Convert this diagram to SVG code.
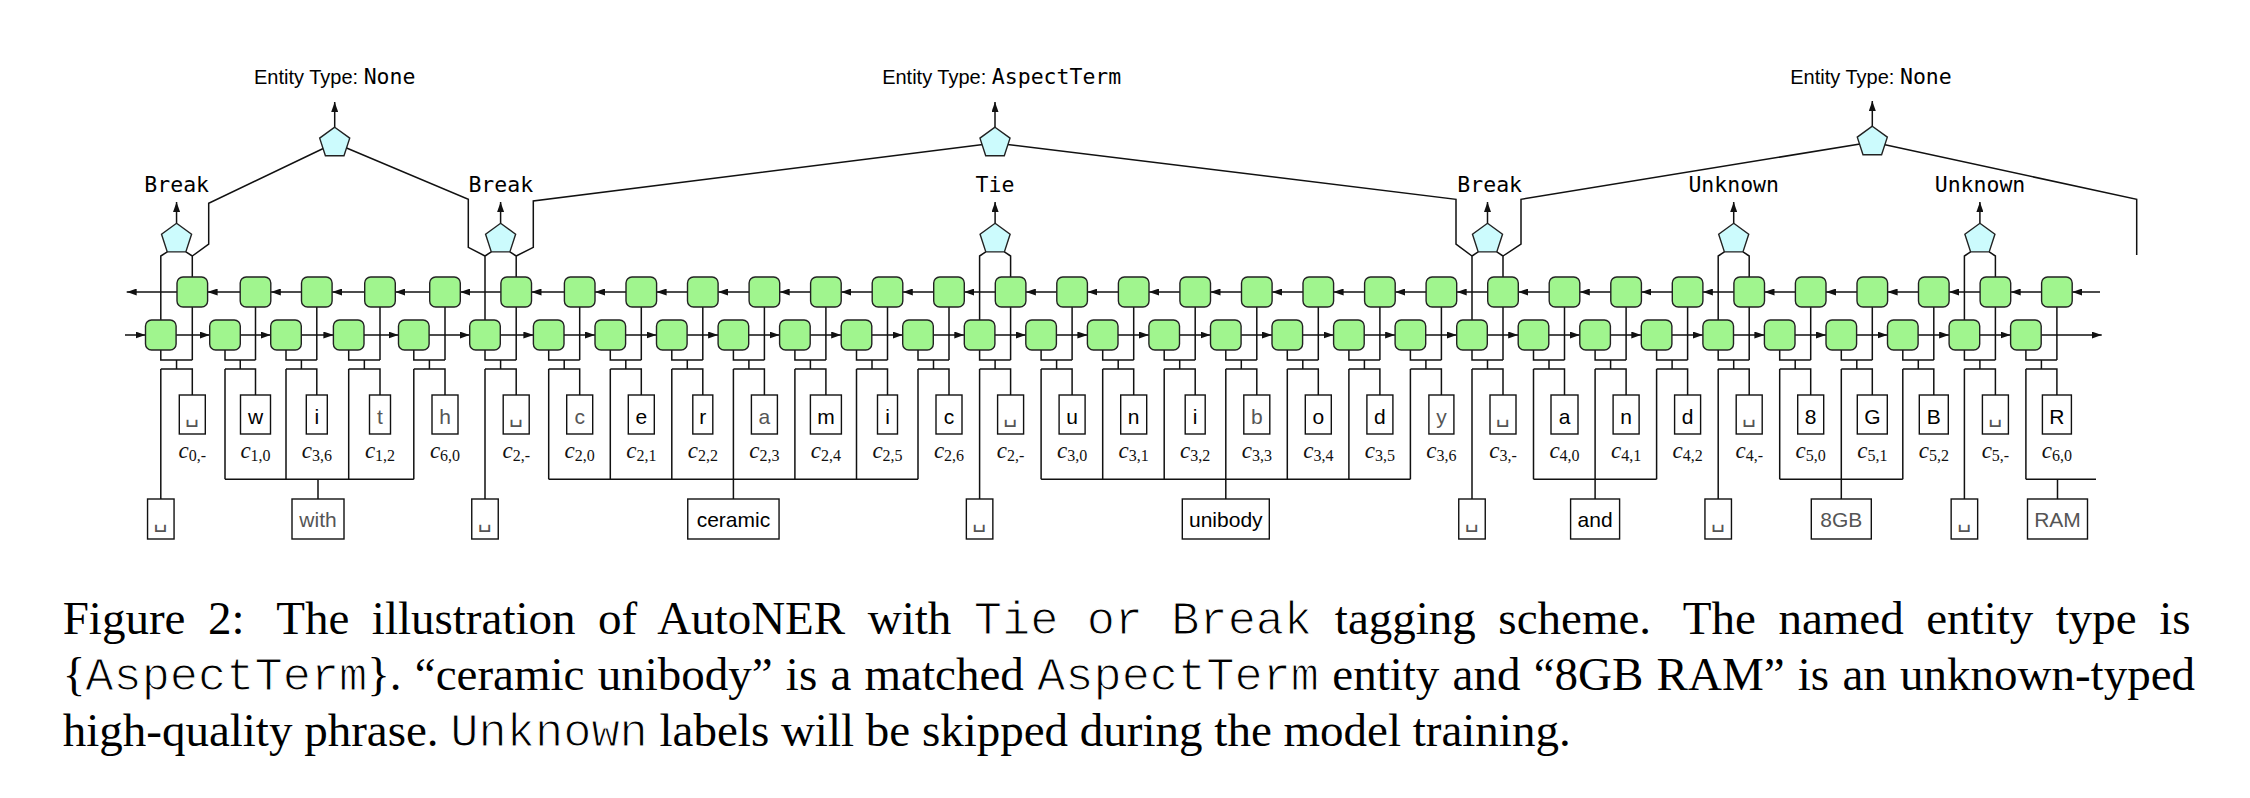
<svg xmlns="http://www.w3.org/2000/svg" xmlns:xlink="http://www.w3.org/1999/xlink" width="2250" height="798" viewBox="0 0 2250 798">
<defs>
<style>
.ln{fill:none;stroke:#111;stroke-width:1.5}
.ar{fill:none;stroke:#111;stroke-width:1.5;marker-end:url(#ah)}
.cell{fill:#a0f58e;stroke:#222;stroke-width:1.4}
.pent{fill:#ccfbfd;stroke:#222;stroke-width:1.4}
.box{fill:#fff;stroke:#111;stroke-width:1.4}
.ch{font-family:"Liberation Sans",Arial,sans-serif;font-size:21px;text-anchor:middle;fill:#000}
.gr{fill:#555}
.sp{font-family:"DejaVu Sans",sans-serif;font-size:22px;text-anchor:middle;fill:#555}
.lab{font-family:"Liberation Serif",serif;font-size:23px;text-anchor:middle;fill:#111}
.it{font-style:italic}
.sub{font-size:16px}
.mono{font-family:"DejaVu Sans Mono",monospace;font-size:21.5px;text-anchor:middle;fill:#000}
.et{font-family:"Liberation Sans",Arial,sans-serif;font-size:20px;text-anchor:middle;fill:#000}
.tm{font-family:"DejaVu Sans Mono",monospace;font-size:21.5px}
.cap{font-family:"Liberation Serif","Times New Roman",serif;font-size:47px;fill:#000}
.cm{font-family:"Liberation Mono","Courier New",monospace;word-spacing:0;stroke:#fff;stroke-width:1.1px}
</style>
<marker id="ah" markerUnits="userSpaceOnUse" markerWidth="10" markerHeight="7" refX="10" refY="3.5" orient="auto"><path d="M0,0 L10,3.5 L0,7 Z" fill="#111"/></marker>
<rect id="cl" x="-15.3" y="-15" width="30.6" height="30" rx="6"/>
<path id="pg" d="M0,-15.8 L15.03,-4.88 L9.29,12.78 L-9.29,12.78 L-15.03,-4.88 Z"/>
</defs>
<rect width="2250" height="798" fill="#fff"/>

<g id="connectors">
<path class="ln" d="M334.7,143 L208.7,203.3 V244 L192.3,256"/>
<path class="ln" d="M334.7,143 L468.3,199.3 V247.3 L485,256"/>
<path class="ln" d="M995,143 L533.3,201 V247.3 L516.2,256"/>
<path class="ln" d="M995,143 L1456,199.3 V244 L1472,256"/>
<path class="ln" d="M1872.3,142 L1521,199.3 V244 L1503,256"/>
<path class="ln" d="M1872.3,142 L2136.7,199.3 V255"/>
<path class="ar" d="M334.7,127.2 V102"/>
<path class="ar" d="M995,127.2 V102"/>
<path class="ar" d="M1872.3,126.2 V101"/>
<path class="ln" d="M160.8,320 V256 L167.3,251.9 M192.3,277 V256 L185.9,251.9"/>
<path class="ln" d="M485,320 V256 L491.3,251.9 M516.2,277 V256 L509.9,251.9"/>
<path class="ln" d="M979.6,320 V256 L985.8,251.9 M1010.6,277 V256 L1004.4,251.9"/>
<path class="ln" d="M1472,320 V256 L1478.2,251.9 M1503,277 V256 L1496.8,251.9"/>
<path class="ln" d="M1718.2,320 V256 L1724.4,251.9 M1749.2,277 V256 L1743,251.9"/>
<path class="ln" d="M1964.4,320 V256 L1970.6,251.9 M1995.4,277 V256 L1989.2,251.9"/>
<path class="ar" d="M176.55,223.3 V202"/>
<path class="ar" d="M500.6,223.3 V202"/>
<path class="ar" d="M995.1,223.3 V202"/>
<path class="ar" d="M1487.5,223.3 V202"/>
<path class="ar" d="M1733.7,223.3 V202"/>
<path class="ar" d="M1979.9,223.3 V202"/>
<path class="ln" d="M160.8,350V360H192.3M192.3,307V360M176.55,360V369M160.8,369H192.3V395M160.8,369V499"/>
<path class="ln" d="M225,350V360H255.5M255.5,307V360M240.25,360V369M225,369H255.5V395M225,369V479.3"/>
<path class="ln" d="M286,350V360H316.8M316.8,307V360M301.4,360V369M286,369H316.8V395M286,369V479.3"/>
<path class="ln" d="M348.7,350V360H380M380,307V360M364.35,360V369M348.7,369H380V395M348.7,369V479.3"/>
<path class="ln" d="M413.8,350V360H445M445,307V360M429.4,360V369M413.8,369H445V395M413.8,369V479.3"/>
<path class="ln" d="M485,350V360H516.2M516.2,307V360M500.6,360V369M485,369H516.2V395M485,369V499"/>
<path class="ln" d="M548.7,350V360H579.7M579.7,307V360M564.2,360V369M548.7,369H579.7V395M548.7,369V479.3"/>
<path class="ln" d="M610.3,350V360H641.3M641.3,307V360M625.8,360V369M610.3,369H641.3V395M610.3,369V479.3"/>
<path class="ln" d="M671.8,350V360H702.8M702.8,307V360M687.3,360V369M671.8,369H702.8V395M671.8,369V479.3"/>
<path class="ln" d="M733.4,350V360H764.4M764.4,307V360M748.9,360V369M733.4,369H764.4V395M733.4,369V479.3"/>
<path class="ln" d="M794.9,350V360H825.9M825.9,307V360M810.4,360V369M794.9,369H825.9V395M794.9,369V479.3"/>
<path class="ln" d="M856.5,350V360H887.5M887.5,307V360M872,360V369M856.5,369H887.5V395M856.5,369V479.3"/>
<path class="ln" d="M918,350V360H949M949,307V360M933.5,360V369M918,369H949V395M918,369V479.3"/>
<path class="ln" d="M979.6,350V360H1010.6M1010.6,307V360M995.1,360V369M979.6,369H1010.6V395M979.6,369V499"/>
<path class="ln" d="M1041.1,350V360H1072.1M1072.1,307V360M1056.6,360V369M1041.1,369H1072.1V395M1041.1,369V479.3"/>
<path class="ln" d="M1102.7,350V360H1133.7M1133.7,307V360M1118.2,360V369M1102.7,369H1133.7V395M1102.7,369V479.3"/>
<path class="ln" d="M1164.2,350V360H1195.2M1195.2,307V360M1179.7,360V369M1164.2,369H1195.2V395M1164.2,369V479.3"/>
<path class="ln" d="M1225.8,350V360H1256.8M1256.8,307V360M1241.3,360V369M1225.8,369H1256.8V395M1225.8,369V479.3"/>
<path class="ln" d="M1287.3,350V360H1318.3M1318.3,307V360M1302.8,360V369M1287.3,369H1318.3V395M1287.3,369V479.3"/>
<path class="ln" d="M1348.9,350V360H1379.9M1379.9,307V360M1364.4,360V369M1348.9,369H1379.9V395M1348.9,369V479.3"/>
<path class="ln" d="M1410.4,350V360H1441.4M1441.4,307V360M1425.9,360V369M1410.4,369H1441.4V395M1410.4,369V479.3"/>
<path class="ln" d="M1472,350V360H1503M1503,307V360M1487.5,360V369M1472,369H1503V395M1472,369V499"/>
<path class="ln" d="M1533.5,350V360H1564.5M1564.5,307V360M1549,360V369M1533.5,369H1564.5V395M1533.5,369V479.3"/>
<path class="ln" d="M1595.1,350V360H1626.1M1626.1,307V360M1610.6,360V369M1595.1,369H1626.1V395M1595.1,369V479.3"/>
<path class="ln" d="M1656.6,350V360H1687.6M1687.6,307V360M1672.1,360V369M1656.6,369H1687.6V395M1656.6,369V479.3"/>
<path class="ln" d="M1718.2,350V360H1749.2M1749.2,307V360M1733.7,360V369M1718.2,369H1749.2V395M1718.2,369V499"/>
<path class="ln" d="M1779.7,350V360H1810.7M1810.7,307V360M1795.2,360V369M1779.7,369H1810.7V395M1779.7,369V479.3"/>
<path class="ln" d="M1841.3,350V360H1872.3M1872.3,307V360M1856.8,360V369M1841.3,369H1872.3V395M1841.3,369V479.3"/>
<path class="ln" d="M1902.8,350V360H1933.8M1933.8,307V360M1918.3,360V369M1902.8,369H1933.8V395M1902.8,369V479.3"/>
<path class="ln" d="M1964.4,350V360H1995.4M1995.4,307V360M1979.9,360V369M1964.4,369H1995.4V395M1964.4,369V499"/>
<path class="ln" d="M2025.9,350V360H2056.9M2056.9,307V360M2041.4,360V369M2025.9,369H2056.9V395M2025.9,369V479.3"/>
<path class="ln" d="M225,479.3H413.8M318,479.3V499"/>
<path class="ln" d="M548.7,479.3H918M733.4,479.3V499"/>
<path class="ln" d="M1041.1,479.3H1410.4M1225.8,479.3V499"/>
<path class="ln" d="M1533.5,479.3H1656.6M1595.1,479.3V499"/>
<path class="ln" d="M1779.7,479.3H1902.8M1841.3,479.3V499"/>
<path class="ln" d="M2025.9,479.3H2096M2057.5,479.3V499"/>
<line class="ar" x1="125" y1="335" x2="145.5" y2="335"/>
<line class="ar" x1="176.1" y1="335" x2="209.7" y2="335"/>
<line class="ar" x1="240.3" y1="335" x2="270.7" y2="335"/>
<line class="ar" x1="301.3" y1="335" x2="333.4" y2="335"/>
<line class="ar" x1="364" y1="335" x2="398.5" y2="335"/>
<line class="ar" x1="429.1" y1="335" x2="469.7" y2="335"/>
<line class="ar" x1="500.3" y1="335" x2="533.4" y2="335"/>
<line class="ar" x1="564" y1="335" x2="595" y2="335"/>
<line class="ar" x1="625.6" y1="335" x2="656.5" y2="335"/>
<line class="ar" x1="687.1" y1="335" x2="718.1" y2="335"/>
<line class="ar" x1="748.7" y1="335" x2="779.6" y2="335"/>
<line class="ar" x1="810.2" y1="335" x2="841.2" y2="335"/>
<line class="ar" x1="871.8" y1="335" x2="902.7" y2="335"/>
<line class="ar" x1="933.3" y1="335" x2="964.3" y2="335"/>
<line class="ar" x1="994.9" y1="335" x2="1025.8" y2="335"/>
<line class="ar" x1="1056.4" y1="335" x2="1087.4" y2="335"/>
<line class="ar" x1="1118" y1="335" x2="1148.9" y2="335"/>
<line class="ar" x1="1179.5" y1="335" x2="1210.5" y2="335"/>
<line class="ar" x1="1241.1" y1="335" x2="1272" y2="335"/>
<line class="ar" x1="1302.6" y1="335" x2="1333.6" y2="335"/>
<line class="ar" x1="1364.2" y1="335" x2="1395.1" y2="335"/>
<line class="ar" x1="1425.7" y1="335" x2="1456.7" y2="335"/>
<line class="ar" x1="1487.3" y1="335" x2="1518.2" y2="335"/>
<line class="ar" x1="1548.8" y1="335" x2="1579.8" y2="335"/>
<line class="ar" x1="1610.4" y1="335" x2="1641.3" y2="335"/>
<line class="ar" x1="1671.9" y1="335" x2="1702.9" y2="335"/>
<line class="ar" x1="1733.5" y1="335" x2="1764.4" y2="335"/>
<line class="ar" x1="1795" y1="335" x2="1826" y2="335"/>
<line class="ar" x1="1856.6" y1="335" x2="1887.5" y2="335"/>
<line class="ar" x1="1918.1" y1="335" x2="1949.1" y2="335"/>
<line class="ar" x1="1979.7" y1="335" x2="2010.6" y2="335"/>
<line class="ar" x1="2041.2" y1="335" x2="2101.7" y2="335"/>
<line class="ar" x1="177" y1="292" x2="126.7" y2="292"/>
<line class="ar" x1="240.2" y1="292" x2="207.6" y2="292"/>
<line class="ar" x1="301.5" y1="292" x2="270.8" y2="292"/>
<line class="ar" x1="364.7" y1="292" x2="332.1" y2="292"/>
<line class="ar" x1="429.7" y1="292" x2="395.3" y2="292"/>
<line class="ar" x1="500.9" y1="292" x2="460.3" y2="292"/>
<line class="ar" x1="564.4" y1="292" x2="531.5" y2="292"/>
<line class="ar" x1="626" y1="292" x2="595" y2="292"/>
<line class="ar" x1="687.5" y1="292" x2="656.6" y2="292"/>
<line class="ar" x1="749.1" y1="292" x2="718.1" y2="292"/>
<line class="ar" x1="810.6" y1="292" x2="779.7" y2="292"/>
<line class="ar" x1="872.2" y1="292" x2="841.2" y2="292"/>
<line class="ar" x1="933.7" y1="292" x2="902.8" y2="292"/>
<line class="ar" x1="995.3" y1="292" x2="964.3" y2="292"/>
<line class="ar" x1="1056.8" y1="292" x2="1025.9" y2="292"/>
<line class="ar" x1="1118.4" y1="292" x2="1087.4" y2="292"/>
<line class="ar" x1="1179.9" y1="292" x2="1149" y2="292"/>
<line class="ar" x1="1241.5" y1="292" x2="1210.5" y2="292"/>
<line class="ar" x1="1303" y1="292" x2="1272.1" y2="292"/>
<line class="ar" x1="1364.6" y1="292" x2="1333.6" y2="292"/>
<line class="ar" x1="1426.1" y1="292" x2="1395.2" y2="292"/>
<line class="ar" x1="1487.7" y1="292" x2="1456.7" y2="292"/>
<line class="ar" x1="1549.2" y1="292" x2="1518.3" y2="292"/>
<line class="ar" x1="1610.8" y1="292" x2="1579.8" y2="292"/>
<line class="ar" x1="1672.3" y1="292" x2="1641.4" y2="292"/>
<line class="ar" x1="1733.9" y1="292" x2="1702.9" y2="292"/>
<line class="ar" x1="1795.4" y1="292" x2="1764.5" y2="292"/>
<line class="ar" x1="1857" y1="292" x2="1826" y2="292"/>
<line class="ar" x1="1918.5" y1="292" x2="1887.6" y2="292"/>
<line class="ar" x1="1980.1" y1="292" x2="1949.1" y2="292"/>
<line class="ar" x1="2041.6" y1="292" x2="2010.7" y2="292"/>
<line class="ar" x1="2100" y1="292" x2="2072.2" y2="292"/>
</g>

<g id="pentagons">
<g id="top-none-1"><use xlink:href="#pg" class="pent" x="334.7" y="143"/></g>
<g id="top-aspect"><use xlink:href="#pg" class="pent" x="995" y="143"/></g>
<g id="top-none-2"><use xlink:href="#pg" class="pent" x="1872.3" y="142"/></g>
<g id="tag-0"><use xlink:href="#pg" class="pent" x="176.55" y="239.1"/></g>
<g id="tag-5"><use xlink:href="#pg" class="pent" x="500.6" y="239.1"/></g>
<g id="tag-13"><use xlink:href="#pg" class="pent" x="995.1" y="239.1"/></g>
<g id="tag-21"><use xlink:href="#pg" class="pent" x="1487.5" y="239.1"/></g>
<g id="tag-25"><use xlink:href="#pg" class="pent" x="1733.7" y="239.1"/></g>
<g id="tag-29"><use xlink:href="#pg" class="pent" x="1979.9" y="239.1"/></g>
</g>

<g id="labels">
<text class="et" x="334.7" y="84">Entity Type: <tspan class="tm">None</tspan></text>
<text class="et" x="1001.7" y="84">Entity Type: <tspan class="tm">AspectTerm</tspan></text>
<text class="et" x="1871" y="84">Entity Type: <tspan class="tm">None</tspan></text>
<text class="mono" x="176.7" y="191.7">Break</text>
<text class="mono" x="500.8" y="191.7">Break</text>
<text class="mono" x="995" y="191.7">Tie</text>
<text class="mono" x="1489.7" y="191.7">Break</text>
<text class="mono" x="1733.7" y="191.7">Unknown</text>
<text class="mono" x="1980" y="191.7">Unknown</text>
</g>

<g id="bw-cells">
<g id="bw0"><use xlink:href="#cl" class="cell" x="192.3" y="292"/></g>
<g id="bw1"><use xlink:href="#cl" class="cell" x="255.5" y="292"/></g>
<g id="bw2"><use xlink:href="#cl" class="cell" x="316.8" y="292"/></g>
<g id="bw3"><use xlink:href="#cl" class="cell" x="380" y="292"/></g>
<g id="bw4"><use xlink:href="#cl" class="cell" x="445" y="292"/></g>
<g id="bw5"><use xlink:href="#cl" class="cell" x="516.2" y="292"/></g>
<g id="bw6"><use xlink:href="#cl" class="cell" x="579.7" y="292"/></g>
<g id="bw7"><use xlink:href="#cl" class="cell" x="641.3" y="292"/></g>
<g id="bw8"><use xlink:href="#cl" class="cell" x="702.8" y="292"/></g>
<g id="bw9"><use xlink:href="#cl" class="cell" x="764.4" y="292"/></g>
<g id="bw10"><use xlink:href="#cl" class="cell" x="825.9" y="292"/></g>
<g id="bw11"><use xlink:href="#cl" class="cell" x="887.5" y="292"/></g>
<g id="bw12"><use xlink:href="#cl" class="cell" x="949" y="292"/></g>
<g id="bw13"><use xlink:href="#cl" class="cell" x="1010.6" y="292"/></g>
<g id="bw14"><use xlink:href="#cl" class="cell" x="1072.1" y="292"/></g>
<g id="bw15"><use xlink:href="#cl" class="cell" x="1133.7" y="292"/></g>
<g id="bw16"><use xlink:href="#cl" class="cell" x="1195.2" y="292"/></g>
<g id="bw17"><use xlink:href="#cl" class="cell" x="1256.8" y="292"/></g>
<g id="bw18"><use xlink:href="#cl" class="cell" x="1318.3" y="292"/></g>
<g id="bw19"><use xlink:href="#cl" class="cell" x="1379.9" y="292"/></g>
<g id="bw20"><use xlink:href="#cl" class="cell" x="1441.4" y="292"/></g>
<g id="bw21"><use xlink:href="#cl" class="cell" x="1503" y="292"/></g>
<g id="bw22"><use xlink:href="#cl" class="cell" x="1564.5" y="292"/></g>
<g id="bw23"><use xlink:href="#cl" class="cell" x="1626.1" y="292"/></g>
<g id="bw24"><use xlink:href="#cl" class="cell" x="1687.6" y="292"/></g>
<g id="bw25"><use xlink:href="#cl" class="cell" x="1749.2" y="292"/></g>
<g id="bw26"><use xlink:href="#cl" class="cell" x="1810.7" y="292"/></g>
<g id="bw27"><use xlink:href="#cl" class="cell" x="1872.3" y="292"/></g>
<g id="bw28"><use xlink:href="#cl" class="cell" x="1933.8" y="292"/></g>
<g id="bw29"><use xlink:href="#cl" class="cell" x="1995.4" y="292"/></g>
<g id="bw30"><use xlink:href="#cl" class="cell" x="2056.9" y="292"/></g>
</g>

<g id="fw-cells">
<g id="fw0"><use xlink:href="#cl" class="cell" x="160.8" y="335"/></g>
<g id="fw1"><use xlink:href="#cl" class="cell" x="225" y="335"/></g>
<g id="fw2"><use xlink:href="#cl" class="cell" x="286" y="335"/></g>
<g id="fw3"><use xlink:href="#cl" class="cell" x="348.7" y="335"/></g>
<g id="fw4"><use xlink:href="#cl" class="cell" x="413.8" y="335"/></g>
<g id="fw5"><use xlink:href="#cl" class="cell" x="485" y="335"/></g>
<g id="fw6"><use xlink:href="#cl" class="cell" x="548.7" y="335"/></g>
<g id="fw7"><use xlink:href="#cl" class="cell" x="610.3" y="335"/></g>
<g id="fw8"><use xlink:href="#cl" class="cell" x="671.8" y="335"/></g>
<g id="fw9"><use xlink:href="#cl" class="cell" x="733.4" y="335"/></g>
<g id="fw10"><use xlink:href="#cl" class="cell" x="794.9" y="335"/></g>
<g id="fw11"><use xlink:href="#cl" class="cell" x="856.5" y="335"/></g>
<g id="fw12"><use xlink:href="#cl" class="cell" x="918" y="335"/></g>
<g id="fw13"><use xlink:href="#cl" class="cell" x="979.6" y="335"/></g>
<g id="fw14"><use xlink:href="#cl" class="cell" x="1041.1" y="335"/></g>
<g id="fw15"><use xlink:href="#cl" class="cell" x="1102.7" y="335"/></g>
<g id="fw16"><use xlink:href="#cl" class="cell" x="1164.2" y="335"/></g>
<g id="fw17"><use xlink:href="#cl" class="cell" x="1225.8" y="335"/></g>
<g id="fw18"><use xlink:href="#cl" class="cell" x="1287.3" y="335"/></g>
<g id="fw19"><use xlink:href="#cl" class="cell" x="1348.9" y="335"/></g>
<g id="fw20"><use xlink:href="#cl" class="cell" x="1410.4" y="335"/></g>
<g id="fw21"><use xlink:href="#cl" class="cell" x="1472" y="335"/></g>
<g id="fw22"><use xlink:href="#cl" class="cell" x="1533.5" y="335"/></g>
<g id="fw23"><use xlink:href="#cl" class="cell" x="1595.1" y="335"/></g>
<g id="fw24"><use xlink:href="#cl" class="cell" x="1656.6" y="335"/></g>
<g id="fw25"><use xlink:href="#cl" class="cell" x="1718.2" y="335"/></g>
<g id="fw26"><use xlink:href="#cl" class="cell" x="1779.7" y="335"/></g>
<g id="fw27"><use xlink:href="#cl" class="cell" x="1841.3" y="335"/></g>
<g id="fw28"><use xlink:href="#cl" class="cell" x="1902.8" y="335"/></g>
<g id="fw29"><use xlink:href="#cl" class="cell" x="1964.4" y="335"/></g>
<g id="fw30"><use xlink:href="#cl" class="cell" x="2025.9" y="335"/></g>
</g>

<g id="chars">
<g id="ch0"><rect class="box" x="179.3" y="395" width="26" height="39"/><text class="sp" x="192.3" y="422">␣</text><text class="lab" x="192.3" y="458"><tspan class="it">c</tspan><tspan class="sub" dy="3">0,-</tspan></text></g>
<g id="ch1"><rect class="box" x="240.5" y="395" width="30" height="39"/><text class="ch" x="255.5" y="423.5">w</text><text class="lab" x="255.5" y="458"><tspan class="it">c</tspan><tspan class="sub" dy="3">1,0</tspan></text></g>
<g id="ch2"><rect class="box" x="306.3" y="395" width="21" height="39"/><text class="ch" x="316.8" y="423.5">i</text><text class="lab" x="316.8" y="458"><tspan class="it">c</tspan><tspan class="sub" dy="3">3,6</tspan></text></g>
<g id="ch3"><rect class="box" x="369.5" y="395" width="21" height="39"/><text class="ch gr" x="380" y="423.5">t</text><text class="lab" x="380" y="458"><tspan class="it">c</tspan><tspan class="sub" dy="3">1,2</tspan></text></g>
<g id="ch4"><rect class="box" x="432" y="395" width="26" height="39"/><text class="ch gr" x="445" y="423.5">h</text><text class="lab" x="445" y="458"><tspan class="it">c</tspan><tspan class="sub" dy="3">6,0</tspan></text></g>
<g id="ch5"><rect class="box" x="503.2" y="395" width="26" height="39"/><text class="sp" x="516.2" y="422">␣</text><text class="lab" x="516.2" y="458"><tspan class="it">c</tspan><tspan class="sub" dy="3">2,-</tspan></text></g>
<g id="ch6"><rect class="box" x="566.7" y="395" width="26" height="39"/><text class="ch gr" x="579.7" y="423.5">c</text><text class="lab" x="579.7" y="458"><tspan class="it">c</tspan><tspan class="sub" dy="3">2,0</tspan></text></g>
<g id="ch7"><rect class="box" x="628.3" y="395" width="26" height="39"/><text class="ch" x="641.3" y="423.5">e</text><text class="lab" x="641.3" y="458"><tspan class="it">c</tspan><tspan class="sub" dy="3">2,1</tspan></text></g>
<g id="ch8"><rect class="box" x="692.8" y="395" width="20" height="39"/><text class="ch" x="702.8" y="423.5">r</text><text class="lab" x="702.8" y="458"><tspan class="it">c</tspan><tspan class="sub" dy="3">2,2</tspan></text></g>
<g id="ch9"><rect class="box" x="751.4" y="395" width="26" height="39"/><text class="ch gr" x="764.4" y="423.5">a</text><text class="lab" x="764.4" y="458"><tspan class="it">c</tspan><tspan class="sub" dy="3">2,3</tspan></text></g>
<g id="ch10"><rect class="box" x="810.4" y="395" width="31" height="39"/><text class="ch" x="825.9" y="423.5">m</text><text class="lab" x="825.9" y="458"><tspan class="it">c</tspan><tspan class="sub" dy="3">2,4</tspan></text></g>
<g id="ch11"><rect class="box" x="877.5" y="395" width="20" height="39"/><text class="ch" x="887.5" y="423.5">i</text><text class="lab" x="887.5" y="458"><tspan class="it">c</tspan><tspan class="sub" dy="3">2,5</tspan></text></g>
<g id="ch12"><rect class="box" x="936" y="395" width="26" height="39"/><text class="ch" x="949" y="423.5">c</text><text class="lab" x="949" y="458"><tspan class="it">c</tspan><tspan class="sub" dy="3">2,6</tspan></text></g>
<g id="ch13"><rect class="box" x="997.6" y="395" width="26" height="39"/><text class="sp" x="1010.6" y="422">␣</text><text class="lab" x="1010.6" y="458"><tspan class="it">c</tspan><tspan class="sub" dy="3">2,-</tspan></text></g>
<g id="ch14"><rect class="box" x="1059.1" y="395" width="26" height="39"/><text class="ch" x="1072.1" y="423.5">u</text><text class="lab" x="1072.1" y="458"><tspan class="it">c</tspan><tspan class="sub" dy="3">3,0</tspan></text></g>
<g id="ch15"><rect class="box" x="1120.7" y="395" width="26" height="39"/><text class="ch" x="1133.7" y="423.5">n</text><text class="lab" x="1133.7" y="458"><tspan class="it">c</tspan><tspan class="sub" dy="3">3,1</tspan></text></g>
<g id="ch16"><rect class="box" x="1185.2" y="395" width="20" height="39"/><text class="ch" x="1195.2" y="423.5">i</text><text class="lab" x="1195.2" y="458"><tspan class="it">c</tspan><tspan class="sub" dy="3">3,2</tspan></text></g>
<g id="ch17"><rect class="box" x="1243.8" y="395" width="26" height="39"/><text class="ch gr" x="1256.8" y="423.5">b</text><text class="lab" x="1256.8" y="458"><tspan class="it">c</tspan><tspan class="sub" dy="3">3,3</tspan></text></g>
<g id="ch18"><rect class="box" x="1305.3" y="395" width="26" height="39"/><text class="ch" x="1318.3" y="423.5">o</text><text class="lab" x="1318.3" y="458"><tspan class="it">c</tspan><tspan class="sub" dy="3">3,4</tspan></text></g>
<g id="ch19"><rect class="box" x="1366.9" y="395" width="26" height="39"/><text class="ch" x="1379.9" y="423.5">d</text><text class="lab" x="1379.9" y="458"><tspan class="it">c</tspan><tspan class="sub" dy="3">3,5</tspan></text></g>
<g id="ch20"><rect class="box" x="1428.9" y="395" width="25" height="39"/><text class="ch gr" x="1441.4" y="423.5">y</text><text class="lab" x="1441.4" y="458"><tspan class="it">c</tspan><tspan class="sub" dy="3">3,6</tspan></text></g>
<g id="ch21"><rect class="box" x="1490" y="395" width="26" height="39"/><text class="sp" x="1503" y="422">␣</text><text class="lab" x="1503" y="458"><tspan class="it">c</tspan><tspan class="sub" dy="3">3,-</tspan></text></g>
<g id="ch22"><rect class="box" x="1551" y="395" width="27" height="39"/><text class="ch" x="1564.5" y="423.5">a</text><text class="lab" x="1564.5" y="458"><tspan class="it">c</tspan><tspan class="sub" dy="3">4,0</tspan></text></g>
<g id="ch23"><rect class="box" x="1613.1" y="395" width="26" height="39"/><text class="ch" x="1626.1" y="423.5">n</text><text class="lab" x="1626.1" y="458"><tspan class="it">c</tspan><tspan class="sub" dy="3">4,1</tspan></text></g>
<g id="ch24"><rect class="box" x="1674.6" y="395" width="26" height="39"/><text class="ch" x="1687.6" y="423.5">d</text><text class="lab" x="1687.6" y="458"><tspan class="it">c</tspan><tspan class="sub" dy="3">4,2</tspan></text></g>
<g id="ch25"><rect class="box" x="1736.2" y="395" width="26" height="39"/><text class="sp" x="1749.2" y="422">␣</text><text class="lab" x="1749.2" y="458"><tspan class="it">c</tspan><tspan class="sub" dy="3">4,-</tspan></text></g>
<g id="ch26"><rect class="box" x="1797.7" y="395" width="26" height="39"/><text class="ch" x="1810.7" y="423.5">8</text><text class="lab" x="1810.7" y="458"><tspan class="it">c</tspan><tspan class="sub" dy="3">5,0</tspan></text></g>
<g id="ch27"><rect class="box" x="1857.3" y="395" width="30" height="39"/><text class="ch" x="1872.3" y="423.5">G</text><text class="lab" x="1872.3" y="458"><tspan class="it">c</tspan><tspan class="sub" dy="3">5,1</tspan></text></g>
<g id="ch28"><rect class="box" x="1919.3" y="395" width="29" height="39"/><text class="ch" x="1933.8" y="423.5">B</text><text class="lab" x="1933.8" y="458"><tspan class="it">c</tspan><tspan class="sub" dy="3">5,2</tspan></text></g>
<g id="ch29"><rect class="box" x="1982.4" y="395" width="26" height="39"/><text class="sp" x="1995.4" y="422">␣</text><text class="lab" x="1995.4" y="458"><tspan class="it">c</tspan><tspan class="sub" dy="3">5,-</tspan></text></g>
<g id="ch30"><rect class="box" x="2042.4" y="395" width="29" height="39"/><text class="ch" x="2056.9" y="423.5">R</text><text class="lab" x="2056.9" y="458"><tspan class="it">c</tspan><tspan class="sub" dy="3">6,0</tspan></text></g>
</g>

<g id="words">
<g id="sp0"><rect class="box" x="147.55" y="499" width="26.5" height="40"/><text class="sp" x="160.8" y="527">␣</text></g>
<g id="w-with"><rect class="box" x="292" y="499" width="52" height="40"/><text class="ch gr" x="318" y="526.5">with</text></g>
<g id="sp5"><rect class="box" x="471.75" y="499" width="26.5" height="40"/><text class="sp" x="485" y="527">␣</text></g>
<g id="w-ceramic"><rect class="box" x="687.75" y="499" width="91.3" height="40"/><text class="ch" x="733.4" y="526.5">ceramic</text></g>
<g id="sp13"><rect class="box" x="966.35" y="499" width="26.5" height="40"/><text class="sp" x="979.6" y="527">␣</text></g>
<g id="w-unibody"><rect class="box" x="1182.3" y="499" width="87" height="40"/><text class="ch" x="1225.8" y="526.5">unibody</text></g>
<g id="sp21"><rect class="box" x="1458.75" y="499" width="26.5" height="40"/><text class="sp" x="1472" y="527">␣</text></g>
<g id="w-and"><rect class="box" x="1570.6" y="499" width="49" height="40"/><text class="ch" x="1595.1" y="526.5">and</text></g>
<g id="sp25"><rect class="box" x="1704.95" y="499" width="26.5" height="40"/><text class="sp" x="1718.2" y="527">␣</text></g>
<g id="w-8gb"><rect class="box" x="1811.3" y="499" width="60" height="40"/><text class="ch gr" x="1841.3" y="526.5">8GB</text></g>
<g id="sp29"><rect class="box" x="1951.15" y="499" width="26.5" height="40"/><text class="sp" x="1964.4" y="527">␣</text></g>
<g id="w-ram"><rect class="box" x="2027.5" y="499" width="60" height="40"/><text class="ch gr" x="2057.5" y="526.5">RAM</text></g>
</g>

<g id="caption">
<text class="cap" x="62.7" y="634" word-spacing="10.8">Figure 2: <tspan dx="10">The</tspan> illustration of AutoNER with <tspan class="cm">Tie or Break</tspan> tagging scheme. <tspan dx="10">The</tspan> named entity type is</text>
<text class="cap" x="62.7" y="690" word-spacing="1.5">{<tspan class="cm">AspectTerm</tspan>}. “ceramic unibody” is a matched <tspan class="cm">AspectTerm</tspan> entity and “8GB RAM” is an unknown-typed</text>
<text class="cap" x="62.7" y="746">high-quality phrase. <tspan class="cm">Unknown</tspan> labels will be skipped during the model training.</text>
</g>
</svg>
